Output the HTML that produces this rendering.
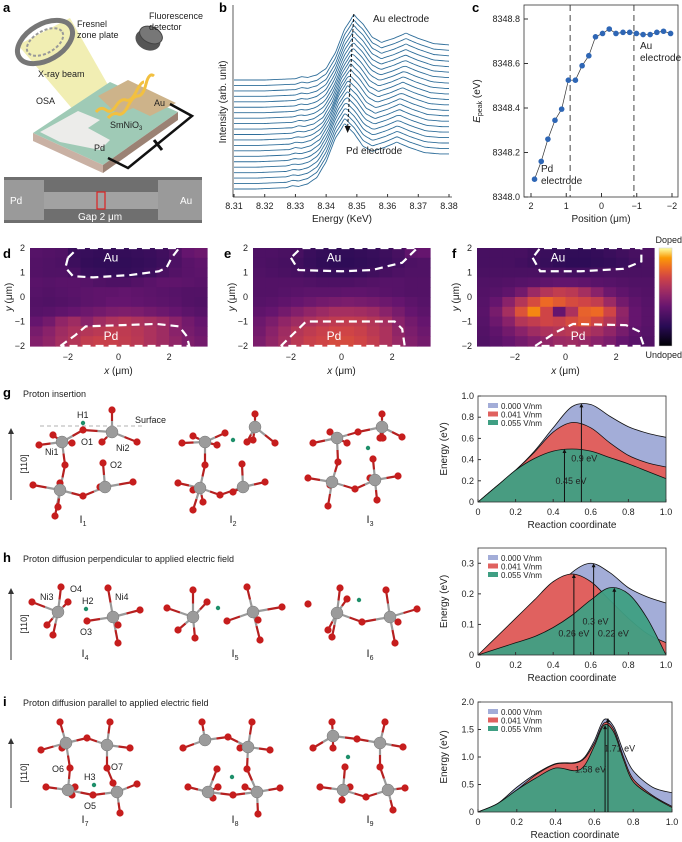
<!DOCTYPE html>
<html><head><meta charset="utf-8">
<style>
html,body{margin:0;padding:0;background:#fff;}
svg{display:block;font-family:"Liberation Sans",Arial,sans-serif;}
text{fill:#222;}
.lbl{font-size:9px;}
.pl{font-size:13px;font-weight:bold;fill:#000;}
</style></head>
<body>
<svg id="fig" width="682" height="842" viewBox="0 0 682 842" xmlns="http://www.w3.org/2000/svg">
<rect width="682" height="842" fill="#fff"/>
<!-- Panel a -->
<g>
<text class="pl" x="3" y="12">a</text>
<polygon points="18,45 70,18 112,92 100,130 92,132" fill="#efeba6" opacity="0.85"/>
<ellipse cx="45" cy="42" rx="30" ry="18" transform="rotate(-30 45 42)" fill="none" stroke="#777" stroke-width="5"/>
<ellipse cx="45" cy="42" rx="20" ry="11" transform="rotate(-30 45 42)" fill="none" stroke="#999" stroke-width="2" stroke-dasharray="3,2"/>
<ellipse cx="80" cy="113" rx="14" ry="5" transform="rotate(-45 80 113)" fill="#bbb" stroke="#666" stroke-width="2"/>
<g>
<ellipse cx="148" cy="40" rx="13" ry="10" transform="rotate(25 148 40)" fill="#555"/>
<ellipse cx="151" cy="35" rx="12" ry="8" transform="rotate(25 151 35)" fill="#777" stroke="#444"/>
</g>
<polygon points="33,133 110,82 178,112 103,165" fill="#9fcab6"/>
<polygon points="33,133 103,165 103,173 33,141" fill="#c9b1a4"/>
<polygon points="103,165 178,112 178,120 103,173" fill="#9b8274"/>
<polygon points="40,132 78,111 100,120 88,128 110,140 100,150 60,142" fill="#ececea"/>
<polygon points="98,96 128,80 176,103 150,116 133,108 118,115" fill="#cdb38a"/>
<path d="M96 112 q5 -6 10 -2 t10 -4 t10 -6 t10 -8 t8 -10" fill="none" stroke="#f2c040" stroke-width="3"/>
<path d="M108 118 q5 -6 10 -4 t10 -8 t10 -10 t8 -12 t8 -8" fill="none" stroke="#f2c040" stroke-width="3"/>
<path d="M170 104 L192 116 L128 168 L108 158" fill="none" stroke="#111" stroke-width="2.5"/>
<line x1="154" y1="140" x2="162" y2="150" stroke="#111" stroke-width="3"/>
<text class="lbl" x="77" y="27">Fresnel</text>
<text class="lbl" x="77" y="38">zone plate</text>
<text class="lbl" x="149" y="19">Fluorescence</text>
<text class="lbl" x="149" y="30">detector</text>
<text class="lbl" x="38" y="77">X-ray beam</text>
<text class="lbl" x="36" y="104">OSA</text>
<text class="lbl" x="154" y="106">Au</text>
<text class="lbl" x="110" y="128">SmNiO<tspan font-size="6" dy="2">3</tspan></text>
<text class="lbl" x="94" y="151">Pd</text>
</g>
<g>
<rect x="4" y="177" width="198" height="46" fill="#6f6f6f"/>
<rect x="4" y="180" width="40" height="40" fill="#9a9a9a"/>
<rect x="44" y="192" width="115" height="17" fill="#a2a2a2"/>
<rect x="158" y="180" width="44" height="40" fill="#9a9a9a"/>
<rect x="97" y="192" width="8" height="17" fill="none" stroke="#d22" stroke-width="1.2"/>
<text x="10" y="204" font-size="10" style="fill:#fff">Pd</text>
<text x="180" y="204" font-size="10" style="fill:#fff">Au</text>
<text x="78" y="220" font-size="10" style="fill:#fff">Gap 2 μm</text>
</g>
<text class="pl" x="219" y="12">b</text>
<text class="pl" x="472" y="12">c</text>
<text class="pl" x="3" y="258">d</text>
<text class="pl" x="224" y="258">e</text>
<text class="pl" x="452" y="258">f</text>
<text class="pl" x="3" y="397">g</text>
<text class="lbl" x="23" y="397" font-size="10">Proton insertion</text>
<text class="pl" x="3" y="562">h</text>
<text class="lbl" x="23" y="562" font-size="10">Proton diffusion perpendicular to applied electric field</text>
<text class="pl" x="3" y="706">i</text>
<text class="lbl" x="23" y="706" font-size="10">Proton diffusion parallel to applied electric field</text>
<g id="layer"></g>
</svg>
<script>
// ---------- data: panel b ----------
const specEnergy = [8.31,8.32,8.330,8.332,8.334,8.337,8.340,8.343,8.346,8.349,8.352,8.355,8.358,8.362,8.366,8.370,8.375,8.380];
const specShape  = [0.0,0.0,0.02,0.05,0.04,0.08,0.18,0.42,0.78,1.0,0.86,0.66,0.58,0.64,0.72,0.64,0.56,0.54];
const edgeShift  = [-0.0030,-0.0029,-0.0028,-0.0027,-0.0026,-0.0024,-0.0022,-0.0020,-0.0018,-0.0015,-0.0012,-0.0010,-0.0008,-0.0006,-0.0004,-0.0003,-0.0002,-0.0001,0,0,0];
const bTicks = ["8.31","8.32","8.33","8.34","8.35","8.36","8.37","8.38"];
// ---------- data: panel c ----------
const cPosition = [1.9,1.71,1.52,1.32,1.13,0.94,0.74,0.55,0.36,0.17,-0.03,-0.22,-0.41,-0.61,-0.8,-0.99,-1.18,-1.38,-1.57,-1.76,-1.96];
const cEnergy = [8348.08,8348.16,8348.26,8348.345,8348.395,8348.525,8348.525,8348.59,8348.635,8348.72,8348.735,8348.755,8348.735,8348.74,8348.74,8348.735,8348.73,8348.73,8348.74,8348.745,8348.735];
const cYTicks = ["8348.0","8348.2","8348.4","8348.6","8348.8"];
const cXTicks = ["2","1","0","-1","-2"];
// ---------- data: heatmaps (rows y=2..-2, cols x=-3.5..3.5) ----------
const mapD = [
[.35,.34,.33,.26,.25,.24,.24,.24,.25,.26,.28,.33,.40,.42],
[.34,.33,.32,.27,.24,.23,.23,.23,.24,.25,.27,.32,.36,.38],
[.34,.33,.33,.30,.26,.25,.24,.24,.25,.27,.31,.34,.36,.37],
[.36,.35,.36,.36,.35,.33,.32,.32,.34,.36,.38,.38,.37,.36],
[.35,.34,.35,.36,.37,.38,.38,.39,.38,.37,.36,.35,.34,.34],
[.34,.33,.34,.35,.37,.38,.40,.40,.39,.38,.37,.36,.34,.33],
[.35,.36,.38,.40,.42,.44,.46,.47,.46,.44,.42,.40,.37,.35],
[.40,.44,.52,.56,.50,.56,.60,.62,.60,.58,.55,.50,.44,.40],
[.45,.50,.56,.60,.62,.64,.66,.65,.63,.60,.56,.50,.45,.42],
[.48,.52,.58,.62,.66,.68,.68,.66,.64,.60,.56,.52,.47,.44]];
const mapE = [
[.32,.32,.31,.30,.26,.24,.23,.23,.24,.25,.27,.30,.38,.40],
[.32,.31,.30,.28,.25,.23,.22,.22,.23,.24,.26,.29,.32,.33],
[.33,.32,.31,.30,.28,.26,.25,.25,.26,.28,.30,.32,.33,.33],
[.34,.34,.34,.34,.33,.32,.32,.32,.33,.34,.35,.35,.34,.34],
[.34,.34,.35,.36,.37,.37,.37,.38,.38,.37,.36,.35,.34,.34],
[.35,.36,.38,.40,.42,.44,.45,.46,.45,.44,.42,.40,.37,.35],
[.38,.40,.44,.48,.52,.55,.58,.58,.57,.55,.50,.45,.40,.37],
[.42,.46,.52,.56,.60,.63,.65,.66,.65,.62,.58,.50,.44,.40],
[.44,.50,.56,.62,.65,.68,.70,.70,.68,.64,.60,.52,.46,.42],
[.46,.52,.58,.64,.68,.70,.72,.72,.70,.66,.60,.54,.48,.44]];
const mapF = [
[.30,.30,.30,.30,.28,.26,.24,.23,.23,.24,.26,.28,.30,.32],
[.30,.30,.30,.29,.27,.25,.23,.22,.22,.23,.24,.26,.29,.31],
[.31,.31,.31,.31,.31,.30,.30,.29,.29,.30,.31,.31,.31,.31],
[.33,.33,.34,.35,.36,.38,.39,.39,.38,.36,.35,.34,.33,.33],
[.34,.35,.38,.44,.55,.62,.66,.64,.58,.50,.42,.38,.35,.34],
[.35,.40,.50,.62,.72,.80,.76,.72,.70,.66,.55,.44,.38,.35],
[.36,.45,.58,.74,.86,.70,.40,.60,.78,.80,.70,.52,.40,.36],
[.35,.42,.50,.62,.66,.70,.68,.72,.76,.70,.62,.50,.40,.36],
[.34,.38,.44,.50,.56,.60,.62,.64,.62,.58,.52,.45,.38,.35],
[.33,.36,.40,.44,.48,.52,.55,.56,.54,.50,.46,.40,.36,.34]];
const hmXTicks = ["-2","0","2"];
const hmYTicks = ["2","1","0","-1","-2"];
// ---------- data: energy profiles ----------
const gX = [0,0.1,0.2,0.3,0.4,0.5,0.6,0.7,0.8,0.9,1.0];
const gBlue = [0,0.15,0.3,0.48,0.70,0.90,0.92,0.81,0.71,0.65,0.61];
const gRed = [0,0.15,0.3,0.47,0.66,0.75,0.70,0.56,0.44,0.37,0.33];
const gGreen = [0,0.15,0.3,0.41,0.48,0.50,0.48,0.42,0.36,0.29,0.22];
const hX = [0,0.1,0.2,0.3,0.4,0.5,0.6,0.7,0.8,0.9,1.0];
const hBlue = [0,0.04,0.08,0.13,0.20,0.27,0.30,0.27,0.22,0.19,0.17];
const hRed = [0,0.06,0.12,0.18,0.24,0.265,0.24,0.18,0.12,0.07,0.04];
const hGreen = [0,0.02,0.04,0.06,0.09,0.13,0.18,0.22,0.20,0.12,0];
const iX = [0,0.1,0.2,0.3,0.4,0.5,0.55,0.6,0.65,0.7,0.75,0.8,0.9,1.0];
const iBlue = [0,0.15,0.45,0.70,0.88,0.90,1.00,1.30,1.68,1.55,1.10,0.75,0.45,0.35];
const iRed = [0,0.15,0.40,0.68,0.87,0.89,0.98,1.25,1.62,1.50,1.00,0.60,0.30,0.10];
const iGreen = [0,0.15,0.40,0.62,0.80,0.75,0.85,1.20,1.58,1.45,0.95,0.55,0.28,0.08];
const legendLabels = ["0.000 V/nm","0.041 V/nm","0.055 V/nm"];

const NS="http://www.w3.org/2000/svg";
const layer=document.getElementById('layer');
function E(tag,attrs,parent){const e=document.createElementNS(NS,tag);for(const k in attrs)e.setAttribute(k,attrs[k]);(parent||layer).appendChild(e);return e;}
function T(x,y,s,attrs,parent){const e=E('text',Object.assign({x:x,y:y,'font-size':9},attrs||{}),parent);e.textContent=s;return e;}
function smooth(pts){let d="M"+pts[0][0]+" "+pts[0][1];for(let i=0;i<pts.length-1;i++){const p0=pts[i-1]||pts[i],p1=pts[i],p2=pts[i+1],p3=pts[i+2]||p2;const c1=[p1[0]+(p2[0]-p0[0])/6,p1[1]+(p2[1]-p0[1])/6],c2=[p2[0]-(p3[0]-p1[0])/6,p2[1]-(p3[1]-p1[1])/6];d+=` C${c1[0]} ${c1[1]} ${c2[0]} ${c2[1]} ${p2[0]} ${p2[1]}`;}return d;}
function interp(xs,ys,x){if(x<=xs[0])return ys[0];for(let i=0;i<xs.length-1;i++){if(x<=xs[i+1]){const t=(x-xs[i])/(xs[i+1]-xs[i]);return ys[i]+t*(ys[i+1]-ys[i]);}}return ys[ys.length-1];}

// ---------- panel b ----------
const gb=E('g',{});


const bx=e=>234+(e-8.31)/0.07*215;
const bBase=i=>189-i*5.45;
E('line',{x1:233,y1:5,x2:233,y2:197,stroke:'#333','stroke-width':0.8},gb);
E('line',{x1:233,y1:197,x2:452,y2:197,stroke:'#333','stroke-width':0.8},gb);
bTicks.forEach(t=>{const x=bx(parseFloat(t));E('line',{x1:x,y1:197,x2:x,y2:194,stroke:'#333'},gb);const tl=T(x,209,t,{'text-anchor':'middle'},gb);

});
const bxl=T(342,222,"Energy (KeV)",{'text-anchor':'middle','font-size':10},gb);


const byl=T(0,0,"Intensity (arb. unit)",{'text-anchor':'middle','font-size':10,transform:'translate(226,102) rotate(-90)'},gb);


edgeShift.forEach((s,i)=>{const pts=[];for(let e=8.31;e<=8.3801;e+=0.001){pts.push([bx(e),bBase(i)-interp(specEnergy,specShape,e-s)*65]);}
const p=E('path',{d:smooth(pts),fill:'none',stroke:'#2f6e9a','stroke-width':0.9},gb);

});
E('path',{d:`M${bx(8.349)} 14 L${bx(8.347)} 128`,stroke:'#111','stroke-width':1,'stroke-dasharray':'3,2',fill:'none'},gb);
E('polygon',{points:`${bx(8.347)-3},126 ${bx(8.347)+3},126 ${bx(8.347)},133`,fill:'#111'},gb);
const au=T(373,22,"Au electrode",{'font-size':10},gb);


const pd=T(346,154,"Pd electrode",{'font-size':10},gb);



// ---------- panel c ----------
const gc=E('g',{});


const cx=p=>531+(2-p)*35.25, cy=v=>197-(v-8348.0)/0.8*178;
E('rect',{x:524,y:5,width:154,height:192,fill:'none',stroke:'#333','stroke-width':0.8},gc);
cYTicks.forEach(t=>{const y=cy(parseFloat(t));E('line',{x1:524,y1:y,x2:528,y2:y,stroke:'#333'},gc);const tl=T(520,y+3,t,{'text-anchor':'end'},gc);

});
cXTicks.forEach(t=>{const x=cx(parseFloat(t));E('line',{x1:x,y1:197,x2:x,y2:193,stroke:'#333'},gc);const tl=T(x,209,t.replace('-','−'),{'text-anchor':'middle'},gc);

});
[0.89,-0.92].forEach(p=>{E('line',{x1:cx(p),y1:5,x2:cx(p),y2:197,stroke:'#333','stroke-dasharray':'6,4','stroke-width':0.9},gc);});
E('polyline',{points:cPosition.map((p,i)=>cx(p)+','+cy(cEnergy[i])).join(' '),fill:'none',stroke:'#333','stroke-width':0.7},gc);
cPosition.forEach((p,i)=>{const c=E('circle',{cx:cx(p),cy:cy(cEnergy[i]),r:2.8,fill:'#2e66b5'},gc);

});
const cxl=T(601,222,"Position (μm)",{'text-anchor':'middle','font-size':10},gc);


const cyl=E('text',{transform:'translate(480,101) rotate(-90)','text-anchor':'middle','font-size':10},gc);
cyl.innerHTML='<tspan font-style="italic">E</tspan><tspan font-size="7" dy="2">peak</tspan><tspan dy="-2"> (eV)</tspan>';


T(541,172,"Pd",{'font-size':10},gc);T(541,184,"electrode",{'font-size':10},gc);
T(640,49,"Au",{'font-size':10},gc);T(640,61,"electrode",{'font-size':10},gc);

// ---------- heatmaps ----------
const stops=[[0,[0,0,4]],[0.2,[40,11,84]],[0.4,[101,21,110]],[0.5,[137,34,106]],[0.6,[172,50,93]],[0.7,[207,68,70]],[0.8,[237,105,37]],[0.9,[251,155,6]],[1,[252,255,164]]];
function cmap(v){v=Math.max(0,Math.min(1,v));for(let i=0;i<stops.length-1;i++){const a=stops[i],b=stops[i+1];if(v<=b[0]){const t=(v-a[0])/(b[0]-a[0]);const c=a[1].map((x,k)=>Math.round(x+t*(b[1][k]-x)));return `rgb(${c})`;}}return 'rgb(252,255,164)';}
const outlines={
d:{au:[[-2.0,1.6],[-2.1,1.2],[-1.8,0.85],[-1.0,0.8],[0.5,0.9],[1.6,1.05],[1.9,1.2],[2.1,1.6],[2.4,2.0],[-1.6,2.0],[-2.0,1.6]],pd:[[-2.3,-2],[-1.7,-1.55],[-1.3,-1.2],[1.5,-1.1],[2.4,-1.2],[2.7,-1.6],[2.8,-2],[-2.3,-2]]},
e:{au:[[-2.0,1.6],[-1.7,1.1],[0,1.05],[1.2,1.1],[2.4,1.4],[3.0,2.0],[-1.6,2.0],[-2.0,1.6]],pd:[[-2.4,-2],[-1.7,-1.3],[-1.4,-1.0],[2.1,-1.0],[2.4,-1.3],[2.5,-2],[-2.4,-2]]},
f:{au:[[-1.3,1.6],[-1.0,1.05],[0.6,1.05],[2.3,1.15],[3.0,1.45],[3.0,2.0],[-1.0,2.0],[-1.3,1.6]],pd:[[-1.2,-2],[-0.4,-1.45],[0.3,-1.1],[2.4,-1.15],[2.9,-1.4],[3.1,-2],[-1.2,-2]]}};
function heatmap(data,x0,key,name){
const g=E('g',{});


const W=177,H=98,y0=248,nr=data.length,nc=data[0].length;
const hx=v=>x0+(v+3.5)/7*W, hy=v=>y0+(2-v)/4*H;
data.forEach((row,r)=>row.forEach((v,c)=>{E('rect',{x:x0+c*W/nc,y:y0+r*H/nr,width:W/nc+0.6,height:H/nr+0.6,fill:cmap(v)},g);}));
['au','pd'].forEach(k=>{const pts=outlines[key][k].map(p=>hx(p[0])+','+hy(p[1])).join(' ');E('polyline',{points:pts,fill:'none',stroke:'#fff','stroke-width':2.2,'stroke-dasharray':'8,5'},g);});
const ta=T(hx(-0.3),hy(1.45),"Au",{'font-size':12,style:'fill:#fff','text-anchor':'middle'},g);


const tp=T(hx(key==='f'?0.5:-0.3),hy(-1.75),"Pd",{'font-size':12,style:'fill:#fff','text-anchor':'middle'},g);


hmYTicks.forEach(t=>{const y=hy(parseFloat(t));const tl=T(x0-5,y+3,t.replace('-','−'),{'text-anchor':'end'},g);

});
hmXTicks.forEach(t=>{const x=hx(parseFloat(t));const tl=T(x,360,t.replace('-','−'),{'text-anchor':'middle'},g);

});
const xl=E('text',{x:x0+W/2,y:374,'font-size':10,'text-anchor':'middle'},g);
xl.innerHTML='<tspan font-style="italic">x</tspan> (μm)';


const yl=E('text',{transform:`translate(${x0-18},${y0+H/2}) rotate(-90)`,'font-size':10,'text-anchor':'middle'},g);
yl.innerHTML='<tspan font-style="italic">y</tspan> (μm)';


}
heatmap(mapD,30,'d','heatmap-d');
heatmap(mapE,253,'e','heatmap-e');
heatmap(mapF,477,'f','heatmap-f');
const cb=E('g',{});


const defs=E('defs',{});const lg=E('linearGradient',{id:'cbg',x1:0,y1:1,x2:0,y2:0},defs);
stops.forEach(s=>E('stop',{offset:s[0],'stop-color':cmap(s[0])},lg));
E('rect',{x:659,y:248,width:13,height:98,fill:'url(#cbg)',stroke:'#ccc','stroke-width':0.5},cb);
T(682,243,"Doped",{'text-anchor':'end'},cb);T(682,358,"Undoped",{'text-anchor':'end'},cb);

// ---------- energy profile charts ----------
const colors=['#a3add8','#e0615f','#3f9f83'];
function profile(xs,series,ymax,yticks,top,bottom,right,name,arrows,labels){
const g=E('g',{});


const L=478,px=t=>L+t*(right-L),py=v=>bottom-v/ymax*(bottom-top);
series.forEach((s,k)=>{const pts=xs.map((x,i)=>[px(x),py(s[i])]);
const a=E('path',{d:smooth(pts)+` L${px(1)} ${bottom} L${px(0)} ${bottom} Z`,fill:colors[k],'fill-opacity':k==2?0.95:1},g);


E('path',{d:smooth(pts),fill:'none',stroke:'#111','stroke-width':0.8},g);});
E('rect',{x:L,y:top,width:right-L,height:bottom-top,fill:'none',stroke:'#333','stroke-width':0.8},g);
yticks.forEach(t=>{const y=py(parseFloat(t));E('line',{x1:L,y1:y,x2:L+3,y2:y,stroke:'#333'},g);const tl=T(L-4,y+3,t,{'text-anchor':'end'},g);

});
["0","0.2","0.4","0.6","0.8","1.0"].forEach(t=>{const x=px(parseFloat(t));E('line',{x1:x,y1:bottom,x2:x,y2:bottom-3,stroke:'#333'},g);const tl=T(x,bottom+13,t,{'text-anchor':'middle'},g);

});
const xl=T((L+right)/2,bottom+26,"Reaction coordinate",{'text-anchor':'middle','font-size':10},g);


const yl=T(0,0,"Energy (eV)",{'text-anchor':'middle','font-size':10,transform:`translate(447,${(top+bottom)/2}) rotate(-90)`},g);


legendLabels.forEach((s,k)=>{const y=top+10+k*8.5;E('rect',{x:L+10,y:y-3,width:10,height:5,fill:colors[k]},g);const t=T(L+23,y+3,s,{'font-size':8},g);

});
arrows.forEach(a=>{const x=px(a[0]),y=py(a[1]);E('line',{x1:x,y1:bottom,x2:x,y2:y+3,stroke:'#111','stroke-width':1},g);E('polygon',{points:`${x-2},${y+4} ${x+2},${y+4} ${x},${y}`,fill:'#111'},g);});
labels.forEach(l=>{const t=T(px(l[0]),py(l[1]),l[2],{'font-size':9,'text-anchor':'middle'},g);

});
}
profile(gX,[gBlue,gRed,gGreen],1.0,["0","0.2","0.4","0.6","0.8","1.0"],396,502,666,'energy-chart-g',[[0.55,0.93],[0.46,0.5]],[[0.565,0.38,"0.9 eV"],[0.495,0.17,"0.45 eV"]]);
profile(hX,[hBlue,hRed,hGreen],0.35,["0","0.1","0.2","0.3"],548,655,666,'energy-chart-h',[[0.51,0.265],[0.615,0.3],[0.725,0.22]],[[0.625,0.1,"0.3 eV"],[0.51,0.06,"0.26 eV"],[0.72,0.06,"0.22 eV"]]);
profile(iX,[iBlue,iRed,iGreen],2.0,["0","0.5","1.0","1.5","2.0"],702,812,672,'energy-chart-i',[[0.655,1.58],[0.67,1.71]],[[0.73,1.1,"1.71 eV"],[0.58,0.72,"1.58 eV"]]);

// ---------- molecular structures ----------
const mols=[
{n:'I1',lx:83,ly:523,grey:[[62,442],[112,432],[60,490],[105,487]],red:[[112,410],[83,430],[53,435],[72,443],[39,445],[102,442],[137,442],[65,465],[103,463],[33,485],[60,483],[83,496],[100,487],[133,482],[55,516],[58,507]],h:[[83,423]]},
{n:'I2',lx:233,ly:523,grey:[[205,442],[255,427],[200,488],[243,487]],red:[[255,414],[225,433],[193,436],[217,445],[182,443],[247,442],[253,440],[275,443],[205,465],[242,464],[178,483],[193,490],[220,495],[233,492],[265,482],[193,510],[203,502]],h:[[233,440]]},
{n:'I3',lx:370,ly:523,grey:[[337,438],[382,427],[332,482],[375,480]],red:[[382,414],[358,432],[330,432],[313,443],[347,443],[380,438],[383,438],[402,437],[338,462],[373,459],[308,478],[330,485],[355,489],[370,478],[398,476],[328,506],[377,500]],h:[[368,448]]},
{n:'I4',lx:85,ly:657,grey:[[58,612],[113,617]],red:[[61,587],[68,602],[32,602],[47,625],[53,635],[87,621],[108,588],[140,610],[118,625],[118,643]],h:[[86,609]]},
{n:'I5',lx:235,ly:657,grey:[[193,617],[253,612]],red:[[193,590],[207,602],[167,608],[178,630],[195,638],[227,621],[247,587],[282,607],[258,620],[260,640]],h:[[218,608]]},
{n:'I6',lx:370,ly:657,grey:[[337,613],[390,617]],red:[[340,588],[347,599],[308,604],[328,630],[332,637],[362,622],[386,590],[417,609],[398,622],[395,643]],h:[[359,600]]},
{n:'I7',lx:85,ly:823,grey:[[66,743],[107,745],[68,790],[117,792]],red:[[60,722],[110,722],[41,750],[62,748],[87,738],[130,748],[70,768],[107,768],[46,787],[75,787],[72,795],[93,795],[113,783],[137,784],[120,813]],h:[[94,785]]},
{n:'I8',lx:235,ly:823,grey:[[205,740],[248,747],[208,792],[257,792]],red:[[202,722],[252,722],[183,748],[228,737],[240,748],[270,750],[217,769],[247,769],[188,787],[218,787],[233,795],[245,787],[280,788],[213,798],[258,814]],h:[[232,777]]},
{n:'I9',lx:370,ly:823,grey:[[333,736],[380,743],[343,790],[388,790]],red:[[332,722],[385,722],[313,748],[333,748],[357,739],[403,747],[345,767],[380,767],[320,787],[350,787],[366,797],[405,788],[393,810],[342,800]],h:[[348,757]]}];
mols.forEach(m=>{const g=E('g',{});


m.red.forEach(r=>{m.grey.forEach(q=>{const d=Math.hypot(r[0]-q[0],r[1]-q[1]);if(d<30){E('line',{x1:q[0],y1:q[1],x2:(q[0]+r[0])/2,y2:(q[1]+r[1])/2,stroke:'#9a9a9a','stroke-width':2.2},g);E('line',{x1:(q[0]+r[0])/2,y1:(q[1]+r[1])/2,x2:r[0],y2:r[1],stroke:'#b52020','stroke-width':2.2},g);}});});
m.red.forEach(r=>E('circle',{cx:r[0],cy:r[1],r:3.6,fill:'#c61d1d'},g));
m.grey.forEach(q=>E('circle',{cx:q[0],cy:q[1],r:6,fill:'#9b9b9b',stroke:'#777','stroke-width':0.5},g));
m.h.forEach(h=>E('circle',{cx:h[0],cy:h[1],r:2.2,fill:'#1e8f6a'},g));
const t=E('text',{x:m.lx,y:m.ly,'font-size':11,'text-anchor':'middle'},g);
t.innerHTML='I<tspan font-size="7" dy="3">'+m.n.slice(1)+'</tspan>';

});
E('line',{x1:40,y1:426,x2:145,y2:426,stroke:'#999','stroke-dasharray':'4,3','stroke-width':0.8});
const atomLabels=[["H1",77,418],["O1",81,445],["Ni1",45,455],["Ni2",116,451],["O2",110,468],["Surface",135,423],["O4",70,592],["Ni3",40,600],["H2",82,604],["Ni4",115,600],["O3",80,635],["O6",52,772],["O7",111,770],["H3",84,780],["O5",84,809]];
atomLabels.forEach(a=>{const t=T(a[1],a[2],a[0],{'font-size':9});

});
[[428,500,464],[588,660,624],[738,808,773]].forEach(a=>{const g=E('g',{});


E('line',{x1:11,y1:a[1],x2:11,y2:a[0]+5,stroke:'#333','stroke-width':1},g);
E('polygon',{points:`8,${a[0]+6} 14,${a[0]+6} 11,${a[0]}`,fill:'#333'},g);
T(0,0,"[110]",{'font-size':9,'text-anchor':'middle',transform:`translate(27,${a[2]}) rotate(-90)`},g);});
</script>
</body></html>
